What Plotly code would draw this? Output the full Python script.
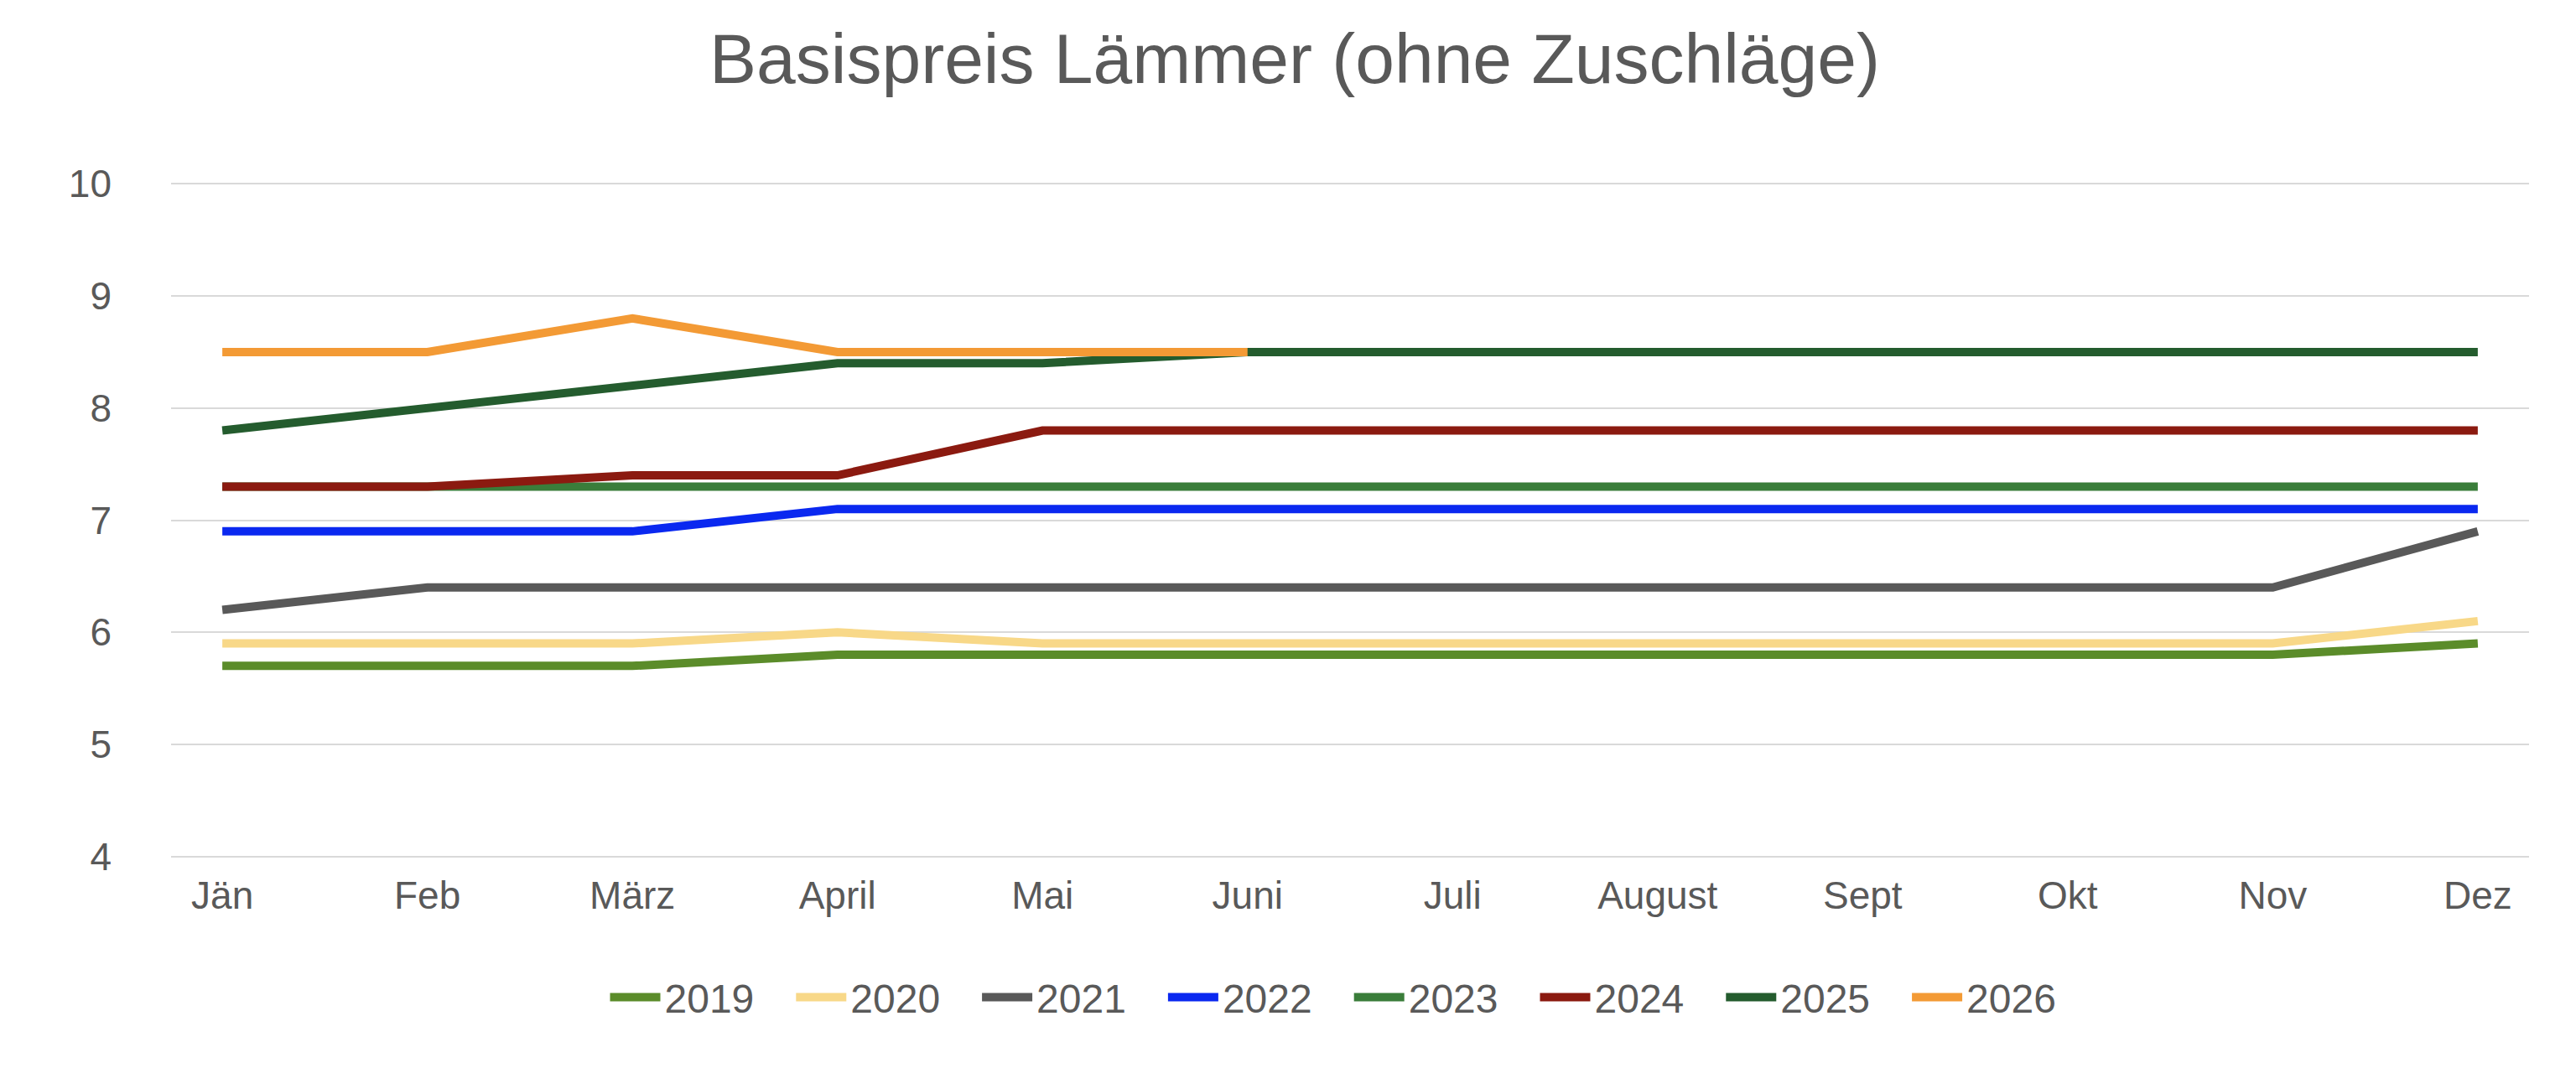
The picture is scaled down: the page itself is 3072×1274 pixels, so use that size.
import plotly.graph_objects as go

months = ["Jän", "Feb", "März", "April", "Mai", "Juni", "Juli", "August", "Sept", "Okt", "Nov", "Dez"]

y2019 = [5.7, 5.7, 5.7, 5.8, 5.8, 5.8, 5.8, 5.8, 5.8, 5.8, 5.8, 5.9]
y2020 = [5.9, 5.9, 5.9, 6.0, 5.9, 5.9, 5.9, 5.9, 5.9, 5.9, 5.9, 6.1]
y2021 = [6.2, 6.4, 6.4, 6.4, 6.4, 6.4, 6.4, 6.4, 6.4, 6.4, 6.4, 6.9]
y2022 = [6.9, 6.9, 6.9, 7.1, 7.1, 7.1, 7.1, 7.1, 7.1, 7.1, 7.1, 7.1]
y2023 = [7.3, 7.3, 7.3, 7.3, 7.3, 7.3, 7.3, 7.3, 7.3, 7.3, 7.3, 7.3]
y2024 = [7.3, 7.3, 7.4, 7.4, 7.8, 7.8, 7.8, 7.8, 7.8, 7.8, 7.8, 7.8]
y2025 = [7.8, 8.0, 8.2, 8.4, 8.4, 8.5, 8.5, 8.5, 8.5, 8.5, 8.5, 8.5]
y2026 = [8.5, 8.5, 8.8, 8.5, 8.5, 8.5]

series = [
    ("2019", y2019, "#5b8c2a"),
    ("2020", y2020, "#f8d888"),
    ("2021", y2021, "#595959"),
    ("2022", y2022, "#0a28f0"),
    ("2023", y2023, "#3a7d3a"),
    ("2024", y2024, "#8b1a10"),
    ("2025", y2025, "#245c2e"),
    ("2026", y2026, "#f39a35"),
]

fig = go.Figure()
for name, vals, color in series:
    fig.add_trace(go.Scatter(
        x=months[:len(vals)], y=vals, name=name + "   ", mode="lines",
        line=dict(color=color, width=10)
    ))

fig.update_layout(
    width=3072, height=1274,
    paper_bgcolor="white", plot_bgcolor="white",
    font=dict(family="Liberation Sans, Arial", color="#595959", size=46),
    title=dict(text="Basispreis Lämmer (ohne Zuschläge)", x=0.5, xanchor="center",
               y=0.975, yanchor="top", font=dict(size=84, color="#595959")),
    margin=dict(l=196, r=64, t=210, b=259),
    xaxis=dict(type="category", range=[-0.25, 11.25], showgrid=False,
               showline=False, ticks="", ticklabelstandoff=14),
    yaxis=dict(range=[3.99, 10.01], dtick=1, gridcolor="#d9d9d9", gridwidth=2,
               zeroline=False, showline=False, ticklabelstandoff=70),
    legend=dict(orientation="h", x=0.5, xanchor="center", y=-0.16, yanchor="top",
                font=dict(size=48), itemwidth=60),
    showlegend=True,
)

fig.write_html("out.html")
